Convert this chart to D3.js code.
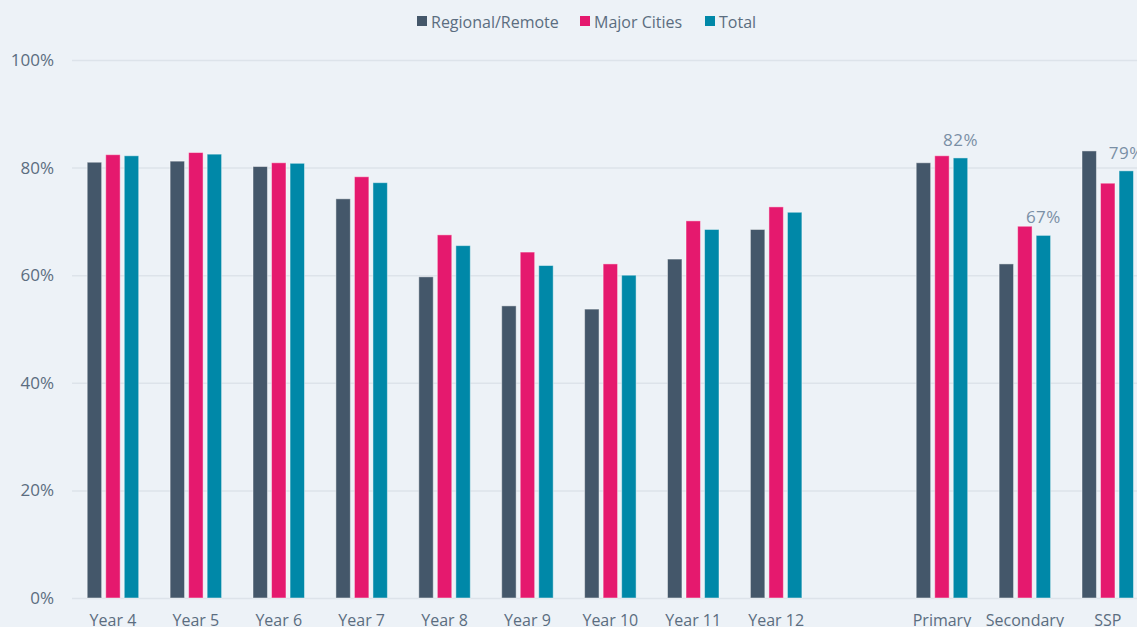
<!DOCTYPE html>
<html>
<head>
<meta charset="utf-8">
<script src="https://cdn.jsdelivr.net/npm/d3@7/dist/d3.min.js"></script>
<style>
  html, body { margin: 0; padding: 0; background: #edf2f7; }
  svg { display: block; font-family: "Open Sans", "Noto Sans", sans-serif; }
</style>
</head>
<body>
<svg id="chart" width="1137" height="627"></svg>
<script>
const categories = ["Year 4","Year 5","Year 6","Year 7","Year 8","Year 9","Year 10","Year 11","Year 12","","Primary","Secondary","SSP"];
const seriesNames = ["Regional/Remote","Major Cities","Total"];
const regional = [81.0, 81.2, 80.2, 74.2, 59.7, 54.3, 53.7, 63.0, 68.5, null, 80.9, 62.1, 83.1];
const major    = [82.4, 82.8, 80.9, 78.3, 67.5, 64.3, 62.1, 70.1, 72.7, null, 82.2, 69.1, 77.1];
const total    = [82.2, 82.5, 80.8, 77.2, 65.5, 61.8, 60.0, 68.5, 71.7, null, 81.8, 67.4, 79.4];
const totalLabels = [null, null, null, null, null, null, null, null, null, null, "82%", "67%", "79%"];
const yTicks = [0, 20, 40, 60, 80, 100];
const colors = ["#44576a", "#e5196e", "#0088a8"];

const svg = d3.select("#chart");
const x0 = 71.5, step = 82.9;
const x = d3.scaleBand().domain(categories.map((c,i)=>i)).range([x0, x0 + step*categories.length]).paddingInner(0).paddingOuter(0);
const y = d3.scaleLinear().domain([0, 100]).range([598, 60]);
const groupW = 51.5;
const xi = d3.scaleBand().domain([0,1,2]).range([0, groupW]).paddingInner(0.22).paddingOuter(0);

// gridlines
svg.append("g").selectAll("line").data(yTicks).join("line")
  .attr("x1", 72).attr("x2", x.range()[1])
  .attr("y1", d => y(d)+0.5).attr("y2", d => y(d)+0.5)
  .attr("stroke", "#dde3ea").attr("stroke-width", 1.5);

// y axis labels
const yAxis = d3.axisLeft(y).tickValues(yTicks).tickFormat(d => d + "%").tickSize(0).tickPadding(0);
const ya = svg.append("g").attr("transform", "translate(54,0)").call(yAxis);
ya.select(".domain").remove();
ya.selectAll("text").attr("fill", "#5b6d80").attr("font-size", 17).attr("font-family", "'Open Sans', sans-serif");

// x axis labels
const xAxis = d3.axisBottom(x).tickFormat(i => categories[i]).tickSize(0).tickPadding(0);
const xa = svg.append("g").attr("transform", "translate(0,615)").call(xAxis);
xa.select(".domain").remove();
xa.selectAll("text").attr("fill", "#5b6d80").attr("font-size", 16).attr("font-family", "'Open Sans', sans-serif");

// bars
const series = [regional, major, total];
const groups = svg.append("g");
series.forEach((vals, s) => {
  groups.append("g").selectAll("rect")
    .data(vals.map((v, i) => ({v, i})).filter(d => d.v != null))
    .join("rect")
    .attr("x", d => x(d.i) + (step - groupW)/2 + xi(s))
    .attr("y", d => y(d.v))
    .attr("width", xi.bandwidth())
    .attr("height", d => y(0) - y(d.v))
    .attr("fill", colors[s])
    .attr("stroke", "rgba(255,255,255,0.45)")
    .attr("stroke-width", 1);
});

// total labels
svg.append("g").selectAll("text")
  .data(totalLabels.map((t, i) => ({t, i})).filter(d => d.t))
  .join("text")
  .attr("x", d => x(d.i) + (step - groupW)/2 + xi(2) + xi.bandwidth()/2)
  .attr("y", d => y(total[d.i]) - 12)
  .attr("text-anchor", "middle")
  .attr("fill", "#7a8fa5")
  .attr("font-size", 17)
  .attr("letter-spacing", 0.5)
  .text(d => d.t);

// legend
const legendItems = [
  {name: seriesNames[0], x: 417},
  {name: seriesNames[1], x: 580},
  {name: seriesNames[2], x: 705}
];
const lg = svg.append("g");
legendItems.forEach((it, s) => {
  lg.append("rect").attr("x", it.x).attr("y", 16).attr("width", 10).attr("height", 10).attr("fill", colors[s]);
  lg.append("text").attr("x", it.x + 14).attr("y", 27.5).attr("fill", "#5b6d80").attr("font-size", 16).text(it.name);
});
</script>
</body>
</html>
